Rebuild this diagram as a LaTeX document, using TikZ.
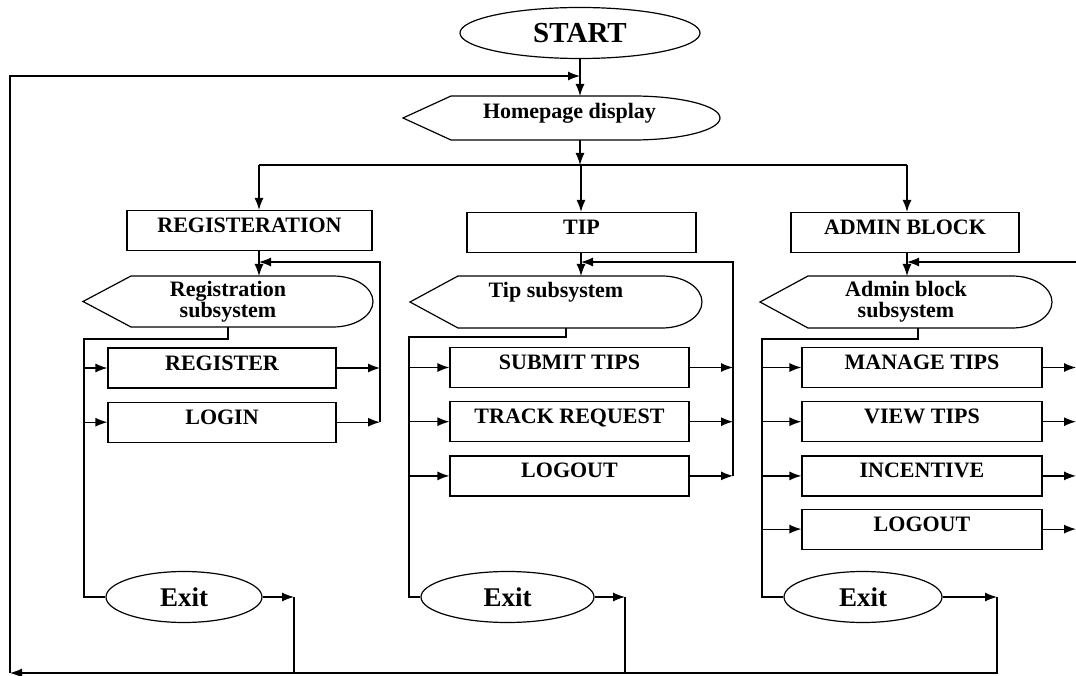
\documentclass[tikz,border=0pt]{standalone}
\usepackage{fontspec}
\setmainfont{Liberation Serif}
\usetikzlibrary{positioning,shapes.geometric,arrows.meta}
\newcommand\pointdepth{48pt}
\newcommand\drawdisplay[3]{
  \draw (#1.west) -- ([xshift=\pointdepth]#1.north west)
    -- ([xshift=-#2]#1.north east)
    arc[start angle=90,end angle=-90,x radius=#2,y radius=#3]
    -- ([xshift=\pointdepth]#1.south west) -- cycle;
}

\begin{document}
\begin{tikzpicture}[
    x=1pt,y=-1pt,
    line width=1.2pt,
    >={Latex[length=12pt,width=9pt]},
    every node/.style={font=\fontsize{22}{21}\selectfont\bfseries},
    box/.style={draw,rectangle,minimum height=40pt,inner sep=0pt,text height=15pt,text depth=11pt},
    display/.style={inner sep=0pt,outer sep=0pt,align=center},
    terminal/.style={draw,ellipse,minimum height=51pt,inner sep=0pt,font=\fontsize{27}{27}\selectfont\bfseries}
  ]
    \useasboundingbox (0,0) rectangle (1076,676);

    \node[terminal,minimum width=240pt,font=\fontsize{29}{29}\selectfont\bfseries] (start) at (580,33) {START};
    \node[display,minimum width=317pt,minimum height=44pt,text height=15pt,text depth=14pt] (home) at (561.5,118) {\hspace*{16pt}Homepage display};
    \drawdisplay{home}{87pt}{22pt}

    % blocks
    \node[box,minimum width=245pt] (reg) at (249.5,230.5) {REGISTERATION};
    \node[box,minimum width=229pt] (tip) at (581.5,232.5) {TIP};
    \node[box,minimum width=228pt] (admin) at (905,232.5) {ADMIN BLOCK};

    % subsystems
    \node[display,minimum width=290pt,minimum height=51pt] (regsub) at (228,301.5) {Registration\\subsystem};
    \node[display,minimum width=292pt,minimum height=52pt,text height=14pt,text depth=22pt] (tipsub) at (556,302) {Tip subsystem};
    \node[display,minimum width=292pt,minimum height=52pt] (adminsub) at (906,302) {Admin block\\subsystem};
    \drawdisplay{regsub}{40pt}{25.5pt}
    \drawdisplay{tipsub}{40pt}{26pt}
    \drawdisplay{adminsub}{40pt}{26pt}

    % menus
    \node[box,minimum width=228pt] (register) at (222,368) {REGISTER};
    \node[box,minimum width=228pt,below=13pt of register] (login) {LOGIN};

    \node[box,minimum width=239pt] (submit) at (569.5,367.5) {SUBMIT TIPS};
    \node[box,minimum width=239pt,below=13pt of submit] (track) {TRACK REQUEST};
    \node[box,minimum width=239pt,below=13pt of track] (tiplogout) {LOGOUT};

    \node[box,minimum width=240pt] (manage) at (922,367.5) {MANAGE TIPS};
    \node[box,minimum width=240pt,below=13pt of manage] (view) {VIEW TIPS};
    \node[box,minimum width=240pt,below=13pt of view] (incentive) {INCENTIVE};
    \node[box,minimum width=240pt,below=12pt of incentive] (adminlogout) {LOGOUT};

    \node[terminal,minimum width=156pt] (regexit) at (184,597) {Exit};
    \node[terminal,minimum width=173pt] (tipexit) at (507.5,597) {Exit};
    \node[terminal,minimum width=158pt] (adminexit) at (863,597) {Exit};

    \coordinate (split) at (580,165);
    \coordinate (regaxis) at (259,165);
    \coordinate (tipaxis) at (581,165);
    \coordinate (adminaxis) at (907,165);
    \coordinate (regloop) at (380,262);
    \coordinate (tiploop) at (733,262);
    \coordinate (adminloop) at (1076,262);
    \coordinate (regtrunk) at (84,339);
    \coordinate (tiptrunk) at (409,337);
    \coordinate (admintrunk) at (762,339);
    \coordinate (regret) at (294,597);
    \coordinate (tipret) at (625,597);
    \coordinate (adminret) at (997,597);
    \coordinate (corner) at (10,673);
    \coordinate (topcorner) at (10,76);

    % top
    \draw[->] (start.south) -- (start.south |- home.north);
    \draw[->] (start.south |- home.south) -- (split);
    \draw (regaxis) -- (adminaxis);
    \draw[->] (regaxis) -- (regaxis |- reg.north);
    \draw[->] (tipaxis) -- (tipaxis |- tip.north);
    \draw[->] (adminaxis) -- (adminaxis |- admin.north);

    % registration
    \draw[->] (regaxis |- reg.south) -- (regaxis |- regsub.north);
    \draw[->] (regloop |- login.east) -- (regloop) -- (regloop -| regaxis);
    \draw (regsub.south) |- (regtrunk) |- (regexit.west);
    \draw[->] (regtrunk |- register.west) -- (register.west);
    \draw[->] (regtrunk |- login.west) -- (login.west);
    \draw[->] (register.east) -- (register.east -| regloop);
    \draw[->] (login.east) -- (login.east -| regloop);
    \draw[->] (regexit.east) -- (regret);
    \draw (regret) -- (regret |- corner);

    % tip
    \draw[->] (tipaxis |- tip.south) -- (tipaxis |- tipsub.north);
    \draw[->] (tiploop |- tiplogout.east) -- (tiploop) -- (tiploop -| tipaxis);
    \draw ([xshift=10pt]tipsub.south) |- (tiptrunk) |- (tipexit.west);
    \draw[->] (tiptrunk |- submit.west) -- (submit.west);
    \draw[->] (tiptrunk |- track.west) -- (track.west);
    \draw[->] (tiptrunk |- tiplogout.west) -- (tiplogout.west);
    \draw[->] (submit.east) -- (submit.east -| tiploop);
    \draw[->] (track.east) -- (track.east -| tiploop);
    \draw[->] (tiplogout.east) -- (tiplogout.east -| tiploop);
    \draw[->] (tipexit.east) -- (tipret);
    \draw (tipret) -- (tipret |- corner);

    % admin
    \draw[->] (adminaxis |- admin.south) -- (adminaxis |- adminsub.north);
    \draw[->] (adminloop) -- (adminloop -| adminaxis);
    \draw ([xshift=12pt]adminsub.south) |- (admintrunk) |- (adminexit.west);
    \draw[->] (admintrunk |- manage.west) -- (manage.west);
    \draw[->] (admintrunk |- view.west) -- (view.west);
    \draw[->] (admintrunk |- incentive.west) -- (incentive.west);
    \draw[->] (admintrunk |- adminlogout.west) -- (adminlogout.west);
    \draw[->] (manage.east) -- (manage.east -| adminloop);
    \draw[->] (view.east) -- (view.east -| adminloop);
    \draw[->] (incentive.east) -- (incentive.east -| adminloop);
    \draw[->] (adminlogout.east) -- (adminlogout.east -| adminloop);
    \draw[->] (adminexit.east) -- (adminret);

    % back to homepage
    \draw[->] (adminret) -- (adminret |- corner) -- (corner);
    \draw[->] (corner) -- (topcorner) -- (topcorner -| start);
\end{tikzpicture}
\end{document}
